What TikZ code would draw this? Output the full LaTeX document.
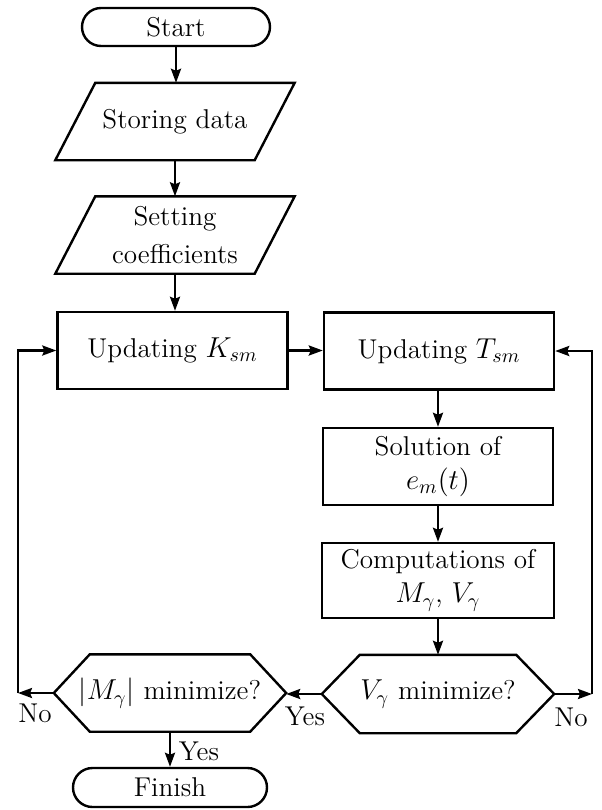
\documentclass[tikz,border=0pt]{standalone}
\usetikzlibrary{arrows.meta,shapes.misc}
\begin{document}
\begin{tikzpicture}[x=0.5pt,y=-0.5pt,
  every node/.style={font=\fontsize{13.6}{17}\selectfont},
  line width=1.2pt,
  term/.style={draw, rounded rectangle, minimum width=94pt, minimum height=19pt, inner sep=0pt},
  iobox/.style={minimum width=98.5pt, minimum height=37.5pt, align=center, inner sep=0pt},
  procbox/.style={draw, minimum width=115pt, minimum height=38.5pt, align=center, inner sep=0pt},
  decbox/.style={minimum width=115pt, minimum height=37.5pt, inner sep=0pt},
  arr/.style={-{Stealth[length=7pt,width=5pt,inset=1pt]}},
  lbl/.style={inner sep=0pt}]
\useasboundingbox (0,0) rectangle (601,810);

% nodes
\node[term] (start) at (176,27) {Start};
\node[iobox] (sd) at (175,121.5) {Storing data};
\draw ([xshift=-10pt]sd.south west) -- ([xshift=-10pt]sd.south east)
      -- ([xshift=10pt]sd.north east) -- ([xshift=10pt]sd.north west) -- cycle;
\node[iobox] (sc) at (175,235) {Setting\\[2pt]coefficients};
\draw ([xshift=-10pt]sc.south west) -- ([xshift=-10pt]sc.south east)
      -- ([xshift=10pt]sc.north east) -- ([xshift=10pt]sc.north west) -- cycle;

\node[procbox] (K) at (172.5,350.5) {Updating $K_{sm}$};
\node[procbox] (T) at (439,351) {Updating $T_{sm}$};
\node[procbox] (sol) at (438,466.5) {Solution of\\$e_m(t)$};
\node[procbox, minimum width=116pt, minimum height=37.5pt] (comp) at (438,580.5) {Computations of\\$M_\gamma$, $V_\gamma$};

\node[decbox, minimum height=38pt] (V) at (438,694) {$V_\gamma$ minimize?};
\draw (V.west) -- ([xshift=19pt]V.north west) -- ([xshift=-19pt]V.north east)
      -- (V.east) -- ([xshift=-19pt]V.south east) -- ([xshift=19pt]V.south west) -- cycle;
\node[decbox] (M) at (170,693) {$|M_\gamma|$ minimize?};
\draw (M.west) -- ([xshift=18pt]M.north west) -- ([xshift=-18pt]M.north east)
      -- (M.east) -- ([xshift=-18pt]M.south east) -- ([xshift=18pt]M.south west) -- cycle;

\node[term, minimum width=97pt, minimum height=19.5pt] (fin) at (170,787.5) {Finish};

\coordinate (lc) at (18,693);
\coordinate (rc) at (592,694);

% connectors
\draw[arr] (start.south) -- (start.south |- sd.north);
\draw[arr] (sd.south) -- (sc.north);
\draw[arr] (sc.south) -- (sc.south |- K.north);
\draw[arr] (K.east) -- (K.east -| T.west);
\draw[arr] (T.south -| sol.north) -- (sol.north);
\draw[arr] (sol.south) -- (comp.north);
\draw[arr] (comp.south) -- (V.north);
\draw[arr] (V.west) -- (M.east |- V.west);
\draw[arr] (M.west) -- (lc);
\draw[arr] (lc) |- (K.west);
\draw[arr] (V.east) -- (rc);
\draw[arr] (rc) |- (T.east);
\draw[arr] (M.south) -- (fin.north);

% labels
\node[lbl] (no1) at (35,713) {No};
\node[lbl] (yes1) at (305,716) {Yes};
\node[lbl] (no2) at (571,717) {No};
\node[lbl] (yes2) at (199,751) {Yes};
\end{tikzpicture}
\end{document}
